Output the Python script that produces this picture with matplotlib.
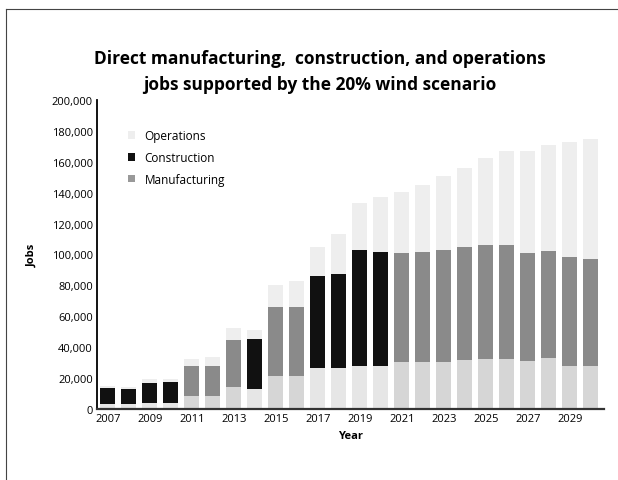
import numpy as np
import matplotlib
matplotlib.use("Agg")
from matplotlib import pyplot as plt
from matplotlib.patches import Patch
import matplotlib.ticker as mtick

years = np.arange(2007, 2031)
manufacturing = [3000, 3000, 4000, 4000, 8000, 8000, 14000, 13000, 21000, 21500,
                 26500, 26500, 28000, 28000, 30000, 30500, 30000, 31500, 32500, 32500,
                 31000, 33000, 28000, 28000]
construction = [10500, 10000, 13000, 13500, 20000, 20000, 30500, 32500, 45000, 44500,
                59500, 61000, 75000, 73500, 71000, 71000, 73000, 73000, 73500, 73500,
                70000, 69500, 70000, 69000]
operations = [1000, 1000, 2000, 1500, 4000, 5500, 8000, 5500, 14000, 17000,
              19000, 25500, 30000, 35500, 39500, 43500, 48000, 51500, 56500, 61000,
              66000, 68500, 74500, 78000]

# the scan turned some construction bars black, others mid grey
dark_years = [2007, 2008, 2009, 2010, 2014, 2017, 2018, 2019, 2020]
constr_colors = ["#111111" if y in dark_years else "#8a8a8a" for y in years]
manuf_colors = ["#e6e6e6" if y in dark_years else "#d6d6d6" for y in years]

plt.rcParams['font.family'] = ['Open Sans', 'DejaVu Sans']

fig = plt.figure(figsize=(6.18, 4.81), dpi=100)
ax = fig.add_axes([0.157, 0.148, 0.82, 0.642])

m = np.array(manufacturing)
c = np.array(construction)
o = np.array(operations)
w = 0.72
ax.bar(years, m, width=w, color=manuf_colors, linewidth=0)
ax.bar(years, c, width=w, bottom=m, color=constr_colors, linewidth=0)
ax.bar(years, o, width=w, bottom=m + c, color="#eeeeee", linewidth=0)

ax.set_xlim(2006.48, 2030.62)
ax.set_ylim(0, 200000)
ax.set_yticks(np.arange(0, 200001, 20000))
ax.yaxis.set_major_formatter(mtick.FuncFormatter(lambda v, p: "{:,}".format(int(v))))
ax.set_xticks(np.arange(2007, 2030, 2))
ax.tick_params(axis="both", length=0, labelsize=8, pad=3)
for s in ["top", "right"]:
    ax.spines[s].set_visible(False)
ax.spines["left"].set_linewidth(1.3)
ax.spines["bottom"].set_linewidth(1.6)
ax.spines["bottom"].set_color("#333333")

ax.set_xlabel("Year", fontsize=8, fontweight="bold", labelpad=4)
ax.set_ylabel("Jobs", fontsize=8, fontweight="bold", labelpad=10)

handles = [Patch(facecolor="#eeeeee", label="Operations"),
           Patch(facecolor="#111111", label="Construction"),
           Patch(facecolor="#999999", label="Manufacturing")]
ax.legend(handles=handles, loc="upper left", bbox_to_anchor=(0.04, 0.94), frameon=False,
          fontsize=8.5, handlelength=0.6, handleheight=0.6, handletextpad=0.8,
          labelspacing=0.75)

fig.text(0.518, 0.878, "Direct manufacturing,  construction, and operations",
         ha="center", va="center", fontsize=12.5, fontweight="bold")
fig.text(0.518, 0.823, "jobs supported by the 20% wind scenario",
         ha="center", va="center", fontsize=12.5, fontweight="bold")

# scan frame
fig.add_artist(plt.Line2D([0.01, 0.01], [0.0, 0.98], transform=fig.transFigure,
                          color="#444444", lw=0.8))
fig.add_artist(plt.Line2D([0.01, 1.0], [0.98, 0.98], transform=fig.transFigure,
                          color="#444444", lw=0.8))

fig.savefig("out.png", dpi=100)
